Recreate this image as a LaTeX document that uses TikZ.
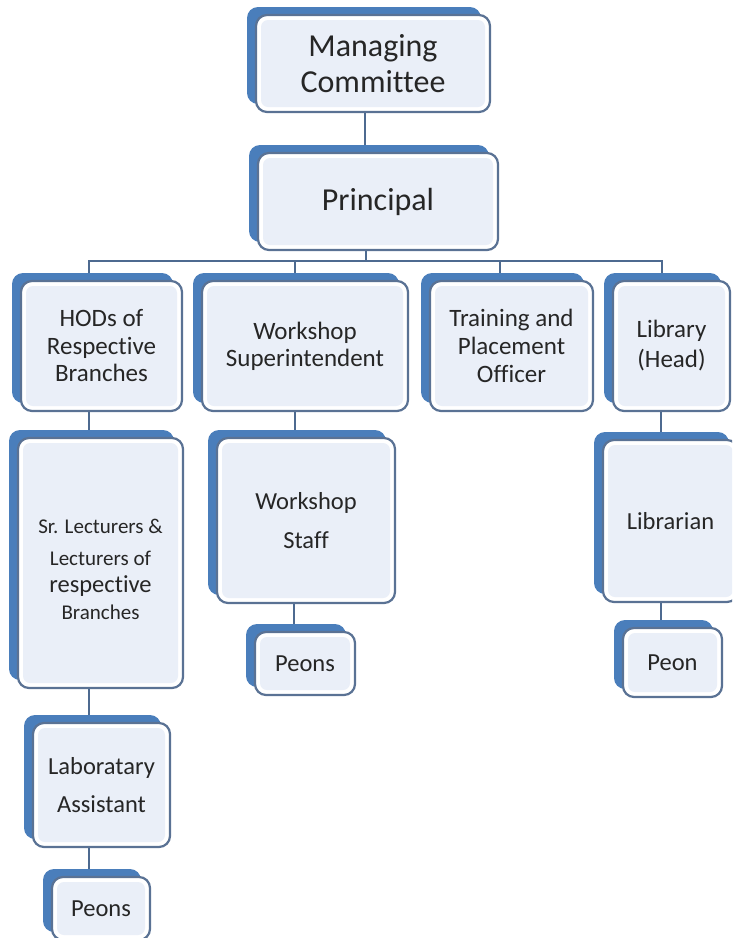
\documentclass[tikz,border=0pt]{standalone}
\usepackage{fontspec}
\setmainfont{Carlito}[Ligatures={NoCommon}]
\usetikzlibrary{shadows,calc,backgrounds}
\definecolor{backblue}{HTML}{4A7EBB}
\definecolor{edgecol}{HTML}{5A7294}
\definecolor{glow}{HTML}{EAEFF8}
\definecolor{ink}{HTML}{262626}
\definecolor{linkcol}{HTML}{4D6A90}
\tikzset{
 orgbox/.style={draw=edgecol, line width=2.2pt, fill=white, rounded corners=11pt,
   inner sep=0pt, align=center, text=ink, font=\fontsize{24.5}{28}\selectfont,
   copy shadow={shadow xshift=-9pt, shadow yshift=8pt, fill=backblue, draw=none},
   path picture={\fill[glow, rounded corners=7pt]
     ($(path picture bounding box.south west)+(5pt,5pt)$) rectangle
     ($(path picture bounding box.north east)+(-5pt,-5pt)$);}},
 bigtext/.style={font=\fontsize{32}{36}\selectfont},
 linkline/.style={draw=linkcol, line width=2.6pt},
}
\begin{document}
\begin{tikzpicture}[x=1pt,y=-1pt]
\useasboundingbox (0,0) rectangle (732,938);
\clip (0,0) rectangle (732,938);
% level 0/1
\node[orgbox, bigtext, minimum width=234pt, minimum height=97pt] (mc) at (373,63.5) {Managing\\Committee};
\node[orgbox, bigtext, minimum width=240pt, minimum height=97pt] (pr) at (378,201.5) {Principal};
% level 2
\node[orgbox, font=\fontsize{25}{27.5}\selectfont, minimum width=161pt, minimum height=130pt] (hod) at (101.5,346) {HODs of\\Respective\\Branches};
\node[orgbox, font=\fontsize{25}{27}\selectfont, minimum width=206pt, minimum height=130pt] (ws) at (305,346) {Workshop\\Superintendent};
\node[orgbox, font=\fontsize{25}{28}\selectfont, minimum width=163pt, minimum height=130pt] (tp) at (511.5,346) {Training and\\Placement\\Officer};
\node[orgbox, font=\fontsize{25}{30}\selectfont, minimum width=117pt, minimum height=130pt] (lib) at (671.5,346) {Library\\(Head)};
% level 3
\node[orgbox, font=\fontsize{21}{27}\selectfont, minimum width=165pt, minimum height=250pt] (sl) at (100.5,563)
 {\raisebox{-8pt}[\height][\depth]{\begin{tabular}{@{}c@{}}Sr. Lecturers \&\\[5pt]Lecturers of\\{\fontsize{24.5}{27}\selectfont respective}\\Branches\end{tabular}}};
\node[orgbox, font=\fontsize{24.5}{39}\selectfont, minimum width=178pt, minimum height=165pt] (wst) at (306,520.5) {Workshop\\Staff};
\node[orgbox, minimum width=135pt, minimum height=162pt] (lbn) at (670.5,521) {Librarian};
% level 4
\node[orgbox, minimum width=100pt, minimum height=63pt] (wpe) at (305,663.5) {Peons};
\node[orgbox, minimum width=99pt, minimum height=69pt] (lpe) at (672.5,662.5) {Peon};
\node[orgbox, font=\fontsize{24.5}{38}\selectfont, minimum width=137pt, minimum height=124pt] (la) at (101.5,785) {Laboratary\\Assistant};
\node[orgbox, minimum width=98pt, minimum height=63pt] (lape) at (101,908.5) {Peons};
% connectors
\begin{scope}[on background layer]
\draw[linkline] (mc.south -| 365,0) -- (pr.north -| 365,0);
\draw[linkline] (pr.south -| 366,0) -- (366,261);
\draw[linkline] (hod.north -| 89,0) -- (89,261) -- (662,261) -- (lib.north -| 662,0);
\draw[linkline] (ws.north -| 295,0) -- (295,261);
\draw[linkline] (tp.north -| 500,0) -- (500,261);
\draw[linkline] (hod.south -| 89,0) -- (sl.north -| 89,0);
\draw[linkline] (ws.south -| 295,0) -- (wst.north -| 295,0);
\draw[linkline] (lib.south -| 661,0) -- (lbn.north -| 661,0);
\draw[linkline] (sl.south -| 89,0) -- (la.north -| 89,0);
\draw[linkline] (wst.south -| 294,0) -- (wpe.north -| 294,0);
\draw[linkline] (lbn.south -| 661,0) -- (lpe.north -| 661,0);
\draw[linkline] (la.south -| 89,0) -- (lape.north -| 89,0);
\end{scope}
\end{tikzpicture}
\end{document}
